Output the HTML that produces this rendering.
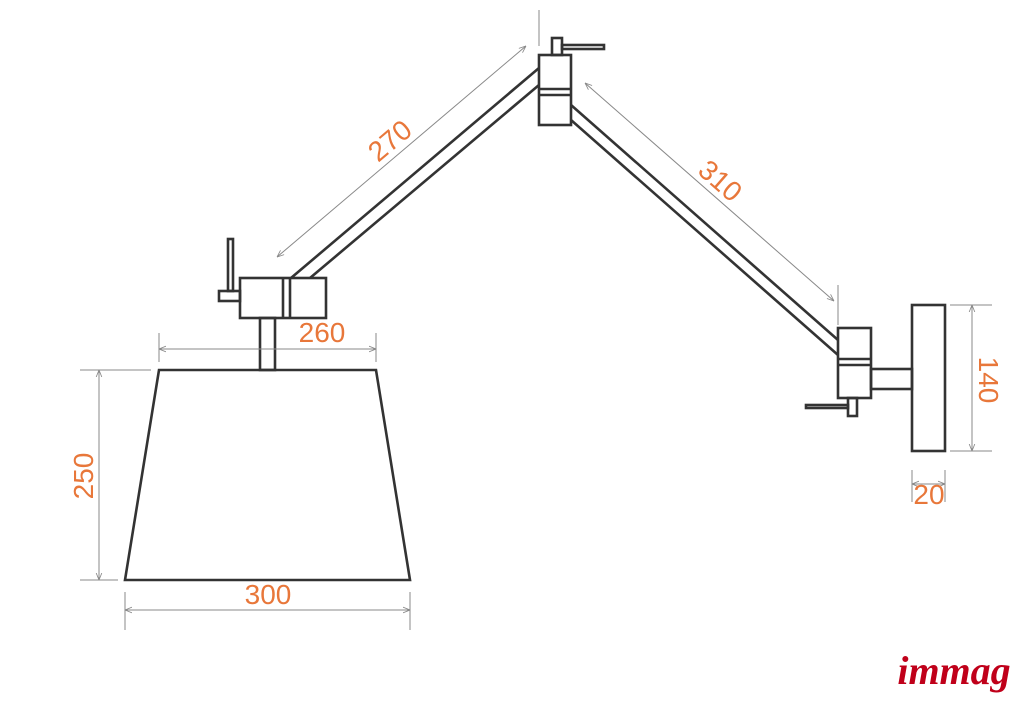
<!DOCTYPE html>
<html><head><meta charset="utf-8"><style>
html,body{margin:0;padding:0;background:#fff;}
svg{display:block;}
.t{font-family:"Liberation Sans","DejaVu Sans",sans-serif;font-size:28px;fill:#e8773a;}
</style></head><body>
<svg width="1024" height="706" viewBox="0 0 1024 706" xmlns="http://www.w3.org/2000/svg">
<defs>
<marker id="a" viewBox="0 0 10 10" refX="10" refY="5" markerWidth="7" markerHeight="7" orient="auto-start-reverse"><path d="M0,1 L10,5 L0,9" fill="none" stroke="#888" stroke-width="1.2"/></marker>
</defs>
<g stroke="#333" stroke-width="2.6" fill="none">
<line x1="539" y1="68" x2="291" y2="278"/>
<line x1="539" y1="85" x2="310" y2="278"/>
<line x1="571" y1="105" x2="838" y2="340"/>
<line x1="571" y1="120" x2="838" y2="355"/>
<rect x="539" y="55" width="32" height="70"/>
<line x1="539" y1="89" x2="571" y2="89"/>
<line x1="539" y1="95" x2="571" y2="95"/>
<rect x="552" y="38" width="10" height="17"/>
<rect x="562" y="45" width="42" height="4"/>
<rect x="240" y="278" width="86" height="40"/>
<line x1="283" y1="278" x2="283" y2="318"/>
<line x1="290" y1="278" x2="290" y2="318"/>
<rect x="228" y="239" width="5" height="52"/>
<rect x="219" y="291" width="21" height="10"/>
<rect x="260" y="318" width="15" height="52"/>
<polygon points="159,370 376,370 410,580 125,580"/>
<rect x="838" y="328" width="33" height="70"/>
<line x1="838" y1="359" x2="871" y2="359"/>
<line x1="838" y1="365" x2="871" y2="365"/>
<rect x="848" y="398" width="9" height="18"/>
<rect x="806" y="405" width="42" height="3"/>
<rect x="871" y="369" width="41" height="20"/>
<rect x="912" y="305" width="33" height="146"/>
</g>
<g stroke="#888" stroke-width="1" fill="none">
<line x1="539" y1="10" x2="539" y2="46"/>
<line x1="838" y1="285" x2="838" y2="325"/>
<line x1="159" y1="333" x2="159" y2="362"/>
<line x1="376" y1="333" x2="376" y2="362"/>
<line x1="80" y1="370" x2="151" y2="370"/>
<line x1="80" y1="580" x2="118" y2="580"/>
<line x1="125" y1="592" x2="125" y2="630"/>
<line x1="410" y1="592" x2="410" y2="630"/>
<line x1="950" y1="305" x2="992" y2="305"/>
<line x1="950" y1="451" x2="992" y2="451"/>
<line x1="912" y1="470" x2="912" y2="502"/>
<line x1="945" y1="470" x2="945" y2="502"/>
<line x1="526" y1="46" x2="277" y2="257" marker-start="url(#a)" marker-end="url(#a)"/>
<line x1="585" y1="83" x2="834" y2="301" marker-start="url(#a)" marker-end="url(#a)"/>
<line x1="159" y1="349" x2="376" y2="349" marker-start="url(#a)" marker-end="url(#a)"/>
<line x1="99" y1="370" x2="99" y2="580" marker-start="url(#a)" marker-end="url(#a)"/>
<line x1="125" y1="610" x2="410" y2="610" marker-start="url(#a)" marker-end="url(#a)"/>
<line x1="972" y1="305" x2="972" y2="451" marker-start="url(#a)" marker-end="url(#a)"/>
<line x1="912" y1="484" x2="945" y2="484" marker-start="url(#a)" marker-end="url(#a)"/>
</g>
<text class="t" x="322" y="342" text-anchor="middle">260</text>
<text class="t" x="268" y="604" text-anchor="middle">300</text>
<text class="t" x="929" y="504" text-anchor="middle">20</text>
<text class="t" transform="translate(93,476) rotate(-90)" text-anchor="middle">250</text>
<text class="t" transform="translate(979,380) rotate(90)" text-anchor="middle">140</text>
<text class="t" transform="translate(396,148) rotate(-40)" text-anchor="middle">270</text>
<text class="t" transform="translate(714,188) rotate(41)" text-anchor="middle">310</text>
<text x="954" y="684" text-anchor="middle" style="font-family:'Liberation Serif',serif;font-style:italic;font-weight:bold;font-size:40px;fill:#c0001a;">immag</text>
</svg>
</body></html>
